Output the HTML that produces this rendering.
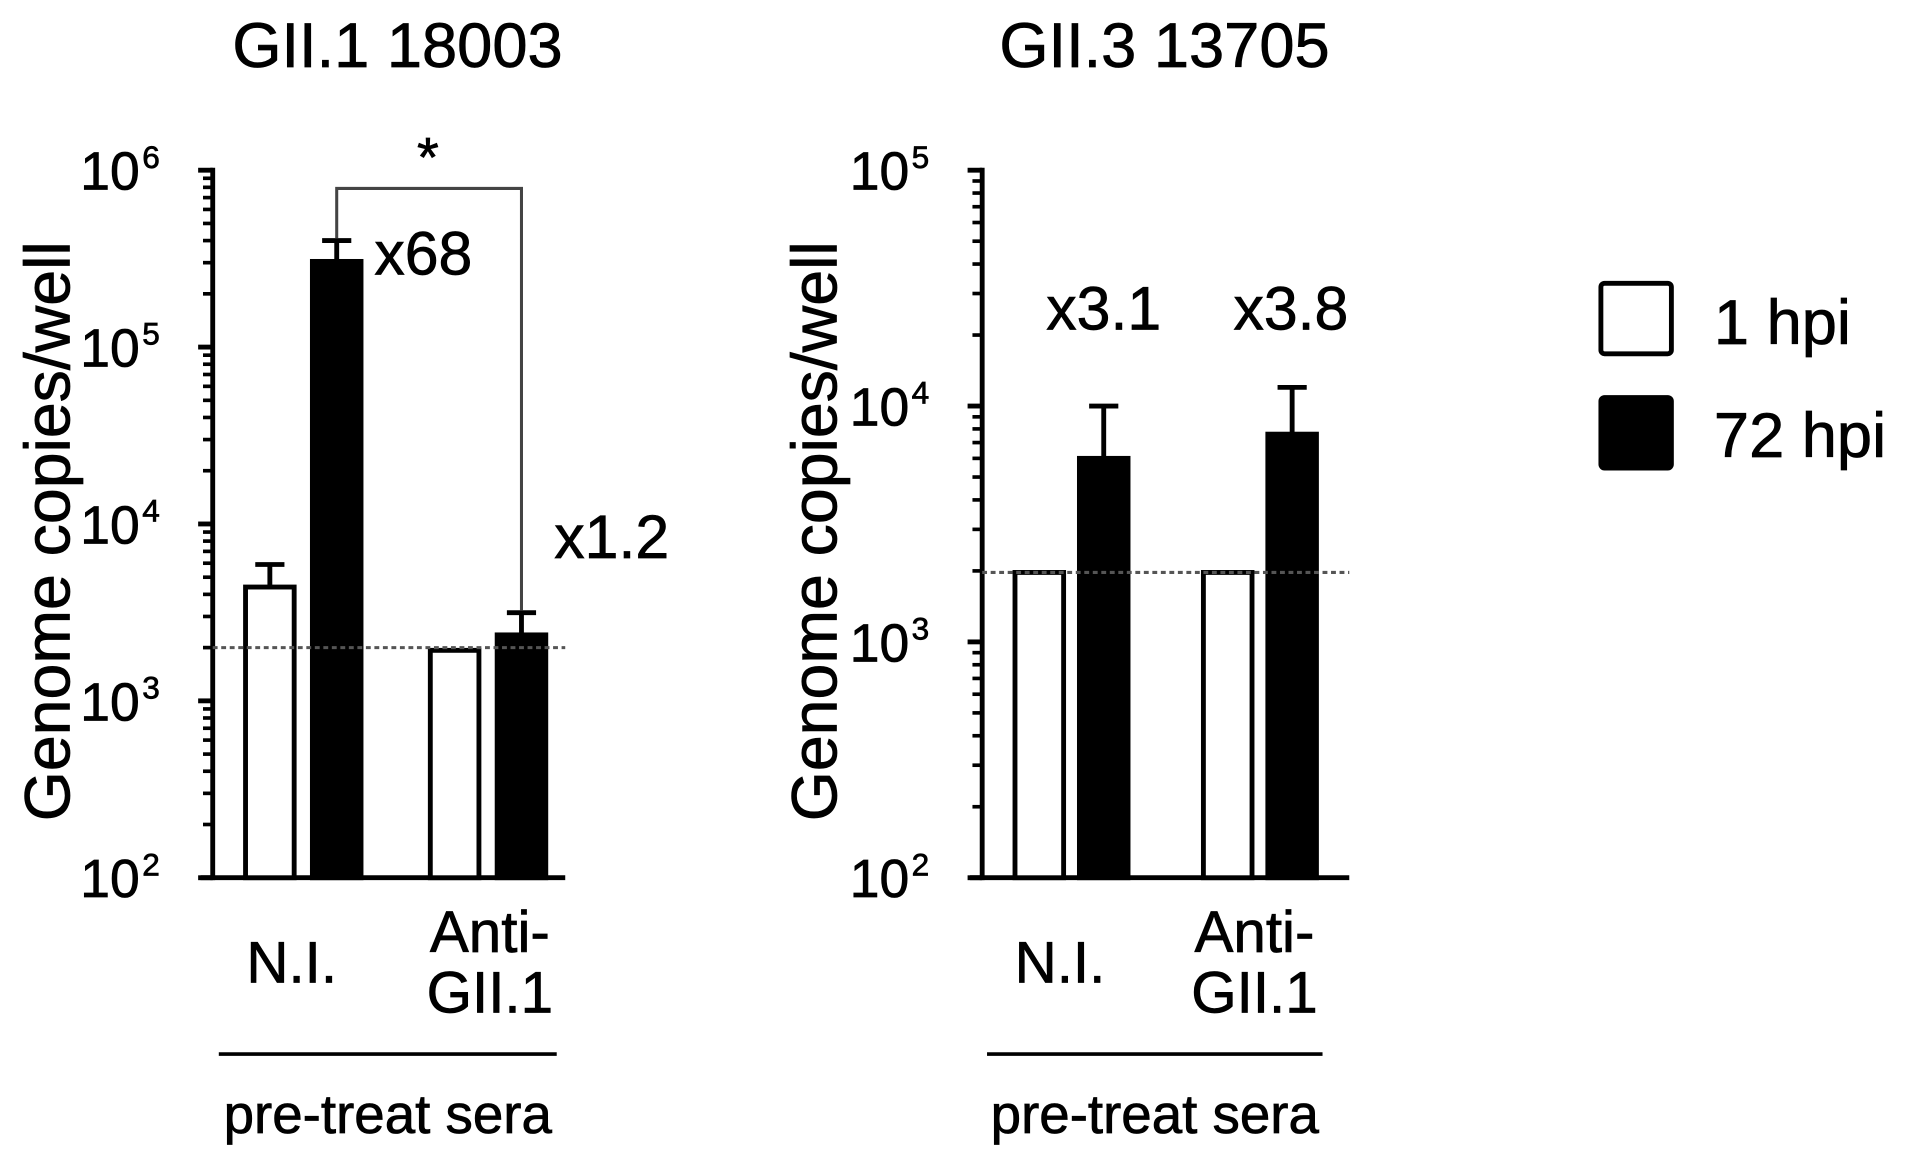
<!DOCTYPE html>
<html><head><meta charset="utf-8"><style>
html,body{margin:0;padding:0;background:#fff;}
svg{display:block;font-family:"Liberation Sans",Arial,sans-serif;}
svg text{stroke:#000;stroke-width:0.6;}
</style></head><body>
<svg id="chart" width="1906" height="1161" viewBox="0 0 1568 955" preserveAspectRatio="none" xmlns="http://www.w3.org/2000/svg">
<text x="327" y="55" font-size="52" text-anchor="middle">GII.1 18003</text>
<text x="958" y="55" font-size="52" text-anchor="middle">GII.3 13705</text>
<text transform="translate(57,437) rotate(-90)" font-size="53" text-anchor="middle">Genome copies/well</text>
<text transform="translate(688,437) rotate(-90)" font-size="53" text-anchor="middle">Genome copies/well</text>
<g id="left"></g><g id="right"></g>
<g>
<rect x="1317" y="233" width="58" height="58" fill="#fff" stroke="#000" stroke-width="4" rx="3"/>
<text x="1410" y="283" font-size="52">1 hpi</text>
<rect x="1317" y="327" width="58" height="58" fill="#000" stroke="#000" stroke-width="4" rx="3"/>
<text x="1410" y="376" font-size="52">72 hpi</text>
</g>
</svg>
<script>
const leftCategories = ["N.I.", "Anti-GII.1"];
const leftMean1 = [4400, 1930];
const leftErr1 = [5900, 1930];
const leftMean72 = [305000, 2360];
const leftErr72 = [400000, 3150];
const leftFold = ["x68", "x1.2"];
const leftLOD = 2000;
const rightCategories = ["N.I.", "Anti-GII.1"];
const rightMean1 = [1970, 1970];
const rightErr1 = [1970, 1970];
const rightMean72 = [6000, 7600];
const rightErr72 = [10000, 12000];
const rightFold = ["x3.1", "x3.8"];
const rightLOD = 1970;

const NS = "http://www.w3.org/2000/svg";
function mk(parent, tag, attrs, txt) {
  const e = document.createElementNS(NS, tag);
  for (const k in attrs) e.setAttribute(k, attrs[k]);
  if (txt !== undefined) e.textContent = txt;
  parent.appendChild(e);
  return e;
}
function panel(g, cfg) {
  const y = v => cfg.y0 - (Math.log10(v) - cfg.minExp) / (cfg.maxExp - cfg.minExp) * (cfg.y0 - cfg.y1);
  let ax = mk(g, "line", {x1: cfg.ax, y1: cfg.y1 - 2, x2: cfg.ax, y2: cfg.y0 + 2, stroke: "#000", "stroke-width": 4});
  
  
  let xa = mk(g, "line", {x1: cfg.ax - 10, y1: cfg.y0, x2: cfg.xEnd, y2: cfg.y0, stroke: "#000", "stroke-width": 4});
  
  
  for (let e = cfg.minExp; e <= cfg.maxExp; e++) {
    const ty = y(Math.pow(10, e));
    const t = mk(g, "line", {x1: cfg.ax - 12, y1: ty, x2: cfg.ax, y2: ty, stroke: "#000", "stroke-width": 4});
    
    
    const lab = mk(g, "text", {x: cfg.ax - 60, y: ty + 16, "font-size": 44, "text-anchor": "end"}, "10");
    
    
    const sup = mk(g, "text", {x: cfg.ax - 58, y: ty - 2, "font-size": 26, "text-anchor": "start"}, String(e));
    
    
    if (e < cfg.maxExp) for (let m = 2; m <= 9; m++) {
      const my = y(m * Math.pow(10, e));
      const mt = mk(g, "line", {x1: cfg.ax - 8, y1: my, x2: cfg.ax, y2: my, stroke: "#000", "stroke-width": 3});
      
      
    }
  }
  const bw = 40;
  cfg.cats.forEach((c, i) => {
    const x1 = cfg.bx[i] + 2, x2 = cfg.bx[i] + cfg.gap + 2;
    const e1 = y(cfg.err1[i]), m1 = y(cfg.m1[i]);
    if (cfg.err1[i] > cfg.m1[i]) {
      const l = mk(g, "line", {x1: x1 + bw/2, y1: e1, x2: x1 + bw/2, y2: m1, stroke: "#000", "stroke-width": 4});
      
      
      const cap = mk(g, "line", {x1: x1 + bw/2 - 12, y1: e1, x2: x1 + bw/2 + 12, y2: e1, stroke: "#000", "stroke-width": 4});
      
      
    }
    const b1 = mk(g, "rect", {x: x1, y: m1, width: bw, height: cfg.y0 - m1, fill: "#fff", stroke: "#000", "stroke-width": 4});
    
    
    const e2 = y(cfg.err72[i]), m2 = y(cfg.m72[i]);
    const l2 = mk(g, "line", {x1: x2 + bw/2, y1: e2, x2: x2 + bw/2, y2: m2, stroke: "#000", "stroke-width": 4});
    
    
    const cap2 = mk(g, "line", {x1: x2 + bw/2 - 12, y1: e2, x2: x2 + bw/2 + 12, y2: e2, stroke: "#000", "stroke-width": 4});
    
    
    const b2 = mk(g, "rect", {x: x2, y: m2, width: bw, height: cfg.y0 - m2, fill: "#000", stroke: "#000", "stroke-width": 4});
    
    
    const fl = mk(g, "text", {x: cfg.foldX[i], y: cfg.foldY[i], "font-size": 50, "text-anchor": cfg.foldAnchor}, cfg.fold[i]);
    
    
    const parts = c === "Anti-GII.1" ? ["Anti-", "GII.1"] : [c];
    const lx = cfg.lx[i];
    parts.forEach((p, k) => {
      const ty = parts.length === 1 ? 808 : 783 + k * 50;
      const ct = mk(g, "text", {x: lx, y: ty, "font-size": 48, "text-anchor": "middle"}, p);
      
      
    });
  });
  const ly = y(cfg.lod);
  const lod = mk(g, "line", {x1: cfg.ax, y1: ly, x2: cfg.xEnd, y2: ly, stroke: "#555", "stroke-width": 2.5, "stroke-dasharray": "4 3"});
  
  
  const gl = mk(g, "line", {x1: cfg.grpX1, y1: 867, x2: cfg.grpX2, y2: 867, stroke: "#000", "stroke-width": 3});
  
  
  const gt = mk(g, "text", {x: (cfg.grpX1 + cfg.grpX2) / 2, y: 932, "font-size": 45, "text-anchor": "middle"}, "pre-treat sera");
  
  
  return y;
}
const yL = panel(document.getElementById("left"), {p: "left", ax: 175, xEnd: 465, y0: 722, y1: 140, minExp: 2, maxExp: 6,
  cats: leftCategories, bx: [200, 352], gap: 55, lx: [240, 403], m1: leftMean1, err1: leftErr1, m72: leftMean72, err72: leftErr72,
  fold: leftFold, foldX: [308, 456], foldY: [226, 459], foldAnchor: "start", lod: leftLOD, grpX1: 180, grpX2: 458});
const yR = panel(document.getElementById("right"), {p: "right", ax: 808, xEnd: 1110, y0: 722, y1: 140, minExp: 2, maxExp: 5,
  cats: rightCategories, bx: [833, 988], gap: 53, lx: [872, 1032], m1: rightMean1, err1: rightErr1, m72: rightMean72, err72: rightErr72,
  fold: rightFold, foldX: [908, 1062], foldY: [271, 271], foldAnchor: "middle", lod: rightLOD, grpX1: 812, grpX2: 1088});
const lg = document.getElementById("left");
const bx1 = 200 + 55 + 2 + 20, bx2 = 352 + 55 + 2 + 20;
const br = mk(lg, "path", {d: `M${bx1},${yL(leftErr72[0]) - 2} V155 H${bx2} V${yL(leftErr72[1]) - 2}`, fill: "none", stroke: "#444", "stroke-width": 2.5});


const st = mk(lg, "text", {x: 352, y: 145, "font-size": 46, "text-anchor": "middle"}, "*");


</script>
</body></html>
